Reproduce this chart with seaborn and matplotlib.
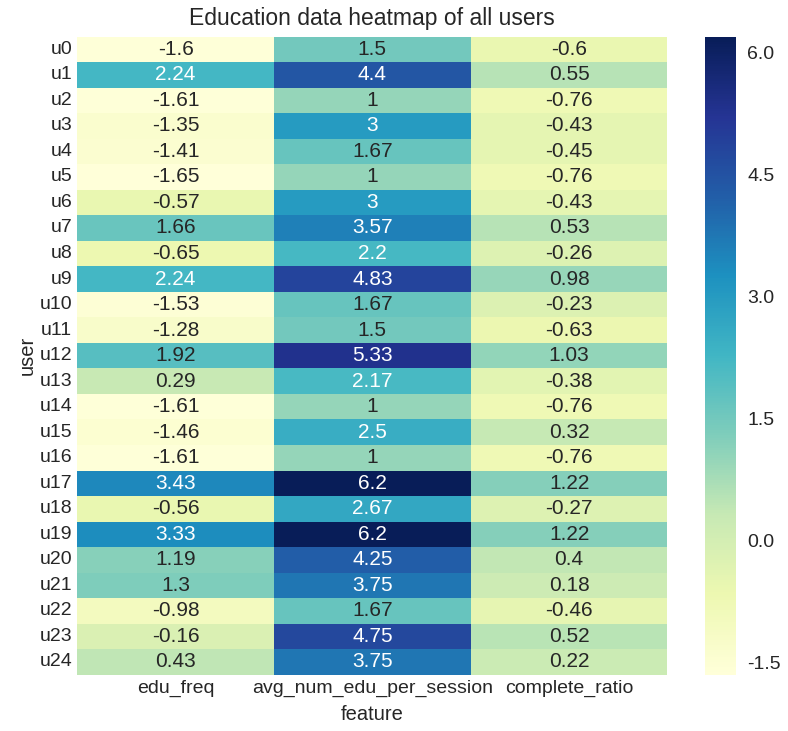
import pandas as pd
import matplotlib.pyplot as plt
import seaborn as sns

# values
users = ["u%d" % i for i in range(25)]
features = ["edu_freq", "avg_num_edu_per_session", "complete_ratio"]
edu_freq = [-1.6, 2.24, -1.61, -1.35, -1.41, -1.65, -0.57, 1.66, -0.65, 2.24,
            -1.53, -1.28, 1.92, 0.29, -1.61, -1.46, -1.61, 3.43, -0.56, 3.33,
            1.19, 1.3, -0.98, -0.16, 0.43]
avg_num = [1.5, 4.4, 1, 3, 1.67, 1, 3, 3.57, 2.2, 4.83,
           1.67, 1.5, 5.33, 2.17, 1, 2.5, 1, 6.2, 2.67, 6.2,
           4.25, 3.75, 1.67, 4.75, 3.75]
complete_ratio = [-0.6, 0.55, -0.76, -0.43, -0.45, -0.76, -0.43, 0.53, -0.26, 0.98,
                  -0.23, -0.63, 1.03, -0.38, -0.76, 0.32, -0.76, 1.22, -0.27, 1.22,
                  0.4, 0.18, -0.46, 0.52, 0.22]
cbar_ticks = [-1.5, 0.0, 1.5, 3.0, 4.5, 6.0]

df = pd.DataFrame({features[0]: edu_freq, features[1]: avg_num, features[2]: complete_ratio},
                  index=pd.Index(users, name="user"))
df.columns.name = "feature"

sns.set_style("white")
plt.rcParams["font.family"] = ["Liberation Sans", "DejaVu Sans"]
plt.rcParams["text.color"] = "#262626"
plt.rcParams["axes.labelcolor"] = "#262626"
plt.rcParams["xtick.color"] = "#262626"
plt.rcParams["ytick.color"] = "#262626"

fig = plt.figure(figsize=(7.88, 7.31), dpi=100)
ax = fig.add_axes([0.098, 0.077, 0.749, 0.873])
cax = fig.add_axes([0.895, 0.077, 0.039, 0.873])
sns.heatmap(df, cmap="YlGnBu", annot=True, fmt="g", ax=ax, cbar_ax=cax,
            annot_kws={"size": 15})
ax.set_title("Education data heatmap of all users", fontsize=16.5, pad=8)
ax.set_xlabel("feature", fontsize=14.5, labelpad=6)
ax.set_ylabel("user", fontsize=14.5, labelpad=2)
ax.tick_params(axis="both", labelsize=14, length=0)
ax.set_yticklabels(ax.get_yticklabels(), rotation=0)
cax.set_yticks(cbar_ticks)
cax.set_yticklabels(["%.1f" % t for t in cbar_ticks])
cax.tick_params(labelsize=14, length=0, pad=8)
plt.savefig("out.png", dpi=100)
plt.close()
